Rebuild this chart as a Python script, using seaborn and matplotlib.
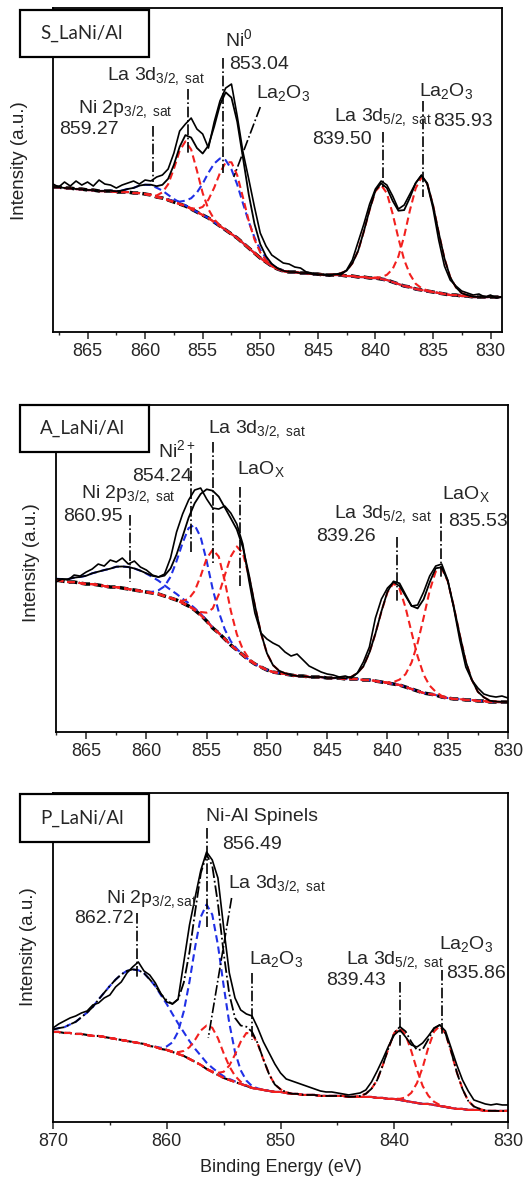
import numpy as np
import pandas as pd
import seaborn as sns
import matplotlib.pyplot as plt
from matplotlib.patches import Rectangle
from matplotlib.ticker import MultipleLocator

# ---------------- data (intensity in arbitrary units, 0.5 eV steps) ----------------
# S_LaNi/Al
s_start = 868.0
s_raw = [148, 145, 150, 146, 151, 147, 150, 146, 152, 148,
         147, 144, 147, 149, 151, 148, 152, 151, 155, 157,
         163, 179, 201, 208, 214, 203, 198, 184, 210, 231,
         244, 248, 216, 180, 153, 125, 99, 86, 77, 73,
         69, 68, 65, 64, 60, 59, 57, 58, 56, 58,
         57, 62, 72, 90, 108, 128, 143, 151, 147, 136,
         123, 127, 138, 149, 157, 148, 124, 92, 66, 52,
         46, 41, 39, 37, 38, 35, 37, 34, 35]
s_bg = [145, 145, 144, 144, 143, 143, 142, 142, 141, 141,
        141, 140, 140, 140, 139, 139, 138, 137, 135, 134,
        132, 130, 128, 126, 123, 120, 117, 114, 110, 106,
        102, 98, 94, 89, 84, 79, 74, 70, 66, 63,
        61, 60, 60, 59, 59, 58, 58, 57, 57, 57,
        57, 56, 56, 55, 55, 54, 54, 53, 52, 50,
        48, 46, 45, 43, 42, 41, 40, 39, 38, 37,
        37, 36, 36, 35, 35, 35, 35, 35, 35]
s_centers = [859.5, 856.4, 853.1, 852.6, 839.5, 835.9]
s_heights = [10, 65, 70, 72, 94, 113]
s_widths = [1.3, 0.95, 1.5, 1.15, 1.25, 1.25]
s_species = ["Ni", "La", "Ni", "La", "La", "La"]

# A_LaNi/Al
a_start = 867.5
a_raw = [150, 153, 152, 157, 156, 160, 163, 168, 166, 172,
         170, 174, 168, 171, 165, 162, 157, 155, 158, 174,
         200, 218, 232, 242, 244, 233, 224, 223, 226, 219,
         208, 188, 152, 119, 99, 93, 89, 86, 80, 76,
         78, 72, 66, 63, 60, 58, 57, 55, 56, 54,
         59, 70, 85, 114, 133, 144, 150, 146, 136, 126,
         127, 140, 156, 166, 168, 152, 124, 92, 65, 52,
         44, 38, 36, 35, 36, 34]
a_bg = [152, 151, 150, 150, 149, 148, 148, 147, 146, 145,
        145, 144, 143, 142, 141, 140, 139, 138, 136, 134,
        132, 129, 126, 122, 117, 111, 104, 99, 93, 87,
        82, 77, 72, 68, 65, 62, 60, 59, 58, 57,
        56, 56, 55, 55, 55, 54, 54, 54, 53, 53,
        53, 52, 52, 51, 50, 49, 48, 47, 45, 43,
        41, 39, 38, 37, 35, 34, 33, 33, 32, 32,
        31, 31, 30, 30, 30, 30]
a_centers = [861.5, 856.0, 854.3, 852.3, 839.4, 835.6]
a_heights = [22, 85, 80, 105, 101, 129]
a_widths = [2.5, 1.2, 1.0, 1.2, 1.3, 1.35]
a_species = ["Ni", "Ni", "La", "La", "La", "La"]

# P_LaNi/Al
p_start = 870.0
p_raw = [94, 98, 101, 104, 106, 109, 111, 117, 119, 124,
         127, 135, 140, 149, 155, 160, 151, 147, 139, 128,
         120, 118, 123, 160, 197, 225, 252, 270, 262, 244,
         195, 149, 124, 112, 108, 106, 94, 80, 69, 58,
         49, 43, 41, 39, 37, 35, 33, 31, 30, 30,
         29, 28, 27, 28, 29, 32, 40, 51, 63, 76,
         87, 92, 85, 77, 75, 79, 86, 94, 97, 91,
         74, 57, 42, 31, 22, 20, 18, 17, 18, 17, 17]
p_bg = [90, 90, 89, 89, 88, 88, 87, 86, 86, 85,
        84, 83, 82, 81, 80, 79, 78, 76, 75, 73,
        72, 70, 68, 66, 63, 60, 57, 53, 50, 47,
        44, 42, 40, 38, 36, 34, 33, 32, 31, 30,
        30, 29, 28, 28, 27, 27, 27, 26, 26, 26,
        26, 26, 25, 25, 25, 25, 25, 24, 24, 23,
        23, 22, 21, 20, 19, 18, 18, 17, 16, 15,
        14, 13, 13, 12, 12, 12, 11, 11, 11, 11, 11]
p_centers = [862.7, 856.4, 856.2, 852.7, 839.5, 836.0]
p_heights = [73, 165, 45, 55, 72, 80]
p_widths = [2.8, 1.3, 1.1, 1.1, 1.2, 1.2]
p_species = ["Ni", "Ni", "La", "La", "La", "La"]

sample_names = ["S_LaNi/Al", "A_LaNi/Al", "P_LaNi/Al"]

SUB32 = r"$_{\mathregular{3/2,\ sat}}$"
SUB52 = r"$_{\mathregular{5/2,\ sat}}$"
LA2O3 = r"La$_{\mathregular{2}}$O$_{\mathregular{3}}$"
LAOX = r"LaO$_{\mathregular{X}}$"

# ---------------- style ----------------
sns.set_style("ticks")
plt.rcParams['font.family'] = ['Liberation Sans', 'DejaVu Sans']
plt.rcParams['mathtext.fontset'] = 'custom'
plt.rcParams['mathtext.rm'] = 'Liberation Sans'
plt.rcParams['mathtext.it'] = 'Liberation Sans:italic'
plt.rcParams['mathtext.bf'] = 'Liberation Sans:bold'

RED = '#f2201e'
BLUE = '#2030e6'
palette = {"Ni": BLUE, "La": RED}


def gauss(e, c, h, w):
    return h * np.exp(-(e - c) ** 2 / (2 * w ** 2))


def draw_spectrum(ax, start, raw, bg, centers, heights, widths, species, bg_ls, bg_lw, env_ls):
    energy = start - 0.5 * np.arange(len(raw))
    bg = np.asarray(bg, dtype=float)
    total = bg.copy()
    parts = []
    for i, (c, h, w, sp) in enumerate(zip(centers, heights, widths, species)):
        g = gauss(energy, c, h, w)
        total += g
        parts.append(pd.DataFrame({"energy": energy, "intensity": bg + g,
                                   "comp": i, "species": sp}))
    comps = pd.concat(parts, ignore_index=True)

    # background, fitted components, envelope, measured spectrum
    sns.lineplot(x=energy, y=bg, ax=ax, color='black', linestyle=bg_ls,
                 linewidth=bg_lw, estimator=None, sort=False)
    sns.lineplot(data=comps, x="energy", y="intensity", hue="species", units="comp",
                 estimator=None, palette=palette, linestyle=(0, (3.5, 2)),
                 linewidth=1.5, legend=False, sort=False, ax=ax)
    sns.lineplot(x=energy, y=total, ax=ax, color='black', linestyle=env_ls,
                 linewidth=1.3, estimator=None, sort=False)
    sns.lineplot(x=energy, y=raw, ax=ax, color='black', linewidth=1.2,
                 estimator=None, sort=False)


def annotate(ax, marks, texts):
    for x0, y0, x1, y1 in marks:
        ax.plot([x0, x1], [y0, y1], color='black', linestyle='-.', linewidth=1.2, zorder=5)
    for x, y, s in texts:
        ax.text(x, y - 6, s, ha='left', va='baseline', fontsize=14, zorder=6)


fig = plt.figure(figsize=(5.29, 11.82), dpi=100)
ax1 = fig.add_axes([0.1002, 0.7191, 0.8488, 0.2741])
ax2 = fig.add_axes([0.1059, 0.3807, 0.8544, 0.2766])
ax3 = fig.add_axes([0.1002, 0.0508, 0.8601, 0.2783])

draw_spectrum(ax1, s_start, s_raw, s_bg, s_centers, s_heights, s_widths, s_species,
              (0, (2.5, 1.2)), 2.5, '-')
draw_spectrum(ax2, a_start, a_raw, a_bg, a_centers, a_heights, a_widths, a_species,
              (0, (2.5, 1.2)), 2.5, '-')
draw_spectrum(ax3, p_start, p_raw, p_bg, p_centers, p_heights, p_widths, p_species,
              '-.', 1.5, '-.')

annotate(ax1,
         [(859.33, 206, 859.33, 150), (856.3, 243, 856.3, 177), (853.2, 274, 853.2, 159),
          (850.0, 225, 852.3, 155), (839.3, 200, 839.3, 145), (835.9, 231, 835.9, 135)],
         [(865.8, 225, "Ni 2p" + SUB32), (867.45, 204, "859.27"),
          (863.3, 258, "La 3d" + SUB32), (853.1, 292, r"Ni$^{\mathregular{0}}$"),
          (852.7, 269, "853.04"), (850.4, 240, LA2O3),
          (843.6, 217, "La 3d" + SUB52), (845.5, 194, "839.50"),
          (836.2, 242, LA2O3), (835.0, 212, "835.93")])
annotate(ax2,
         [(861.36, 217, 861.36, 150), (856.33, 279, 856.33, 179), (854.46, 290, 854.46, 169),
          (852.24, 245, 852.24, 145), (839.2, 195, 839.2, 130), (835.52, 219, 835.52, 154)],
         [(865.4, 240, "Ni 2p" + SUB32), (866.9, 217, "860.95"),
          (859.0, 281, r"Ni$^{\mathregular{2+}}$"), (861.2, 257, "854.24"),
          (854.9, 305, "La 3d" + SUB32), (852.5, 264, LAOX),
          (844.4, 220, "La 3d" + SUB52), (845.9, 197, "839.26"),
          (835.5, 239, LAOX), (835.0, 212, "835.53")])
annotate(ax3,
         [(862.64, 209, 862.64, 144), (856.5, 294, 856.5, 194), (854.3, 224, 856.35, 84),
          (852.5, 149, 852.5, 82), (839.5, 140, 839.5, 75), (835.83, 152, 835.83, 87)],
         [(856.55, 307, "Ni-Al Spinels"), (855.1, 279, "856.49"),
          (854.6, 240, "La 3d" + SUB32),
          (865.3, 225, r"Ni 2p$_{\mathregular{3/2,sat}}$"), (868.15, 205, "862.72"),
          (852.8, 164, LA2O3), (844.2, 164, "La 3d" + SUB52), (846.0, 143, "839.43"),
          (836.1, 179, LA2O3), (835.4, 150, "835.86")])

limits = [((868, 829), 324, 5, 2.5), ((867.5, 830), 327, 5, 2.5), ((870, 830), 329, 10, 5)]
label_x = [-0.056, -0.035, -0.036]
label_y = [0.53, 0.517, 0.532]
for ax, (xl, top, major, minor), lx, ly in zip([ax1, ax2, ax3], limits, label_x, label_y):
    ax.set_xlim(*xl)
    ax.set_ylim(0, top)
    ax.set_yticks([])
    ax.xaxis.set_major_locator(MultipleLocator(major))
    ax.xaxis.set_minor_locator(MultipleLocator(minor))
    ax.tick_params(axis='x', which='major', direction='out', length=5, width=1.1,
                   labelsize=13, pad=3)
    ax.tick_params(axis='x', which='minor', direction='out', length=2.5, width=1.0)
    for sp in ax.spines.values():
        sp.set_linewidth(1.3)
        sp.set_color('black')
    ax.set_xlabel("")
    ax.set_ylabel("Intensity (a.u.)", fontsize=13.5, color='#222222')
    ax.yaxis.set_label_coords(lx, ly)

ax3.set_xlabel("Binding Energy (eV)", fontsize=13, color='#222222')
ax3.xaxis.set_label_coords(0.5, -0.112)
ax3.xaxis.label.set_va('top')

# sample boxes
box_y = [0.9518, 0.6176, 0.2876]
box_h = [0.0398, 0.0398, 0.0406]
for name, by, bh in zip(sample_names, box_y, box_h):
    fig.add_artist(Rectangle((0.0378, by), 0.2439, bh, transform=fig.transFigure,
                             facecolor='white', edgecolor='black', linewidth=1.6, zorder=10))
    fig.text(0.0756, by + bh / 2, name, ha='left', va='center', fontsize=13.5,
             family=['Lato', 'DejaVu Sans'], zorder=11)

fig.savefig("out.png", dpi=100)
